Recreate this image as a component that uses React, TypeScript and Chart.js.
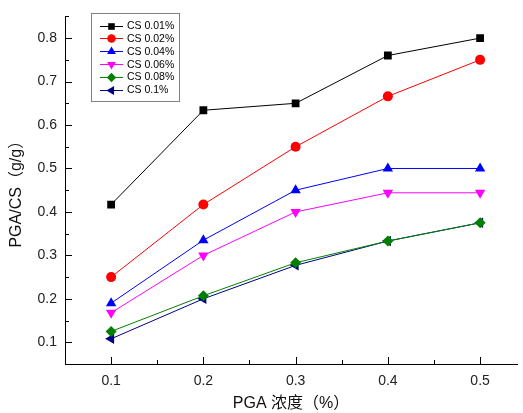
import React, { useEffect, useRef } from "react";
import { Chart, registerables } from "chart.js";

Chart.register(...registerables);

const xValues = [0.1, 0.2, 0.3, 0.4, 0.5];
const cs001 = [0.417, 0.634, 0.65, 0.76, 0.8];
const cs002 = [0.25, 0.417, 0.55, 0.666, 0.75];
const cs004 = [0.19, 0.335, 0.45, 0.5, 0.5];
const cs006 = [0.168, 0.3, 0.4, 0.444, 0.444];
const cs008 = [0.125, 0.207, 0.283, 0.333, 0.375];
const cs01 = [0.108, 0.2, 0.277, 0.333, 0.375];
const seriesLabels = ["CS 0.01%", "CS 0.02%", "CS 0.04%", "CS 0.06%", "CS 0.08%", "CS 0.1%"];
const xTickValues = [0.1, 0.2, 0.3, 0.4, 0.5];
const xMinorTicks = [0.05, 0.15, 0.25, 0.35, 0.45];
const yTickValues = [0.1, 0.2, 0.3, 0.4, 0.5, 0.6, 0.7, 0.8];
const yMinorTicks = [0.15, 0.25, 0.35, 0.45, 0.55, 0.65, 0.75, 0.85];
const xTitle = "PGA 浓度（%）";
const yTitle = "PGA/CS（g/g）";

const seriesValues = [cs001, cs002, cs004, cs006, cs008, cs01];
const colors = ["#000000", "#ff0000", "#0000ff", "#ff00ff", "#008000", "#000080"];
const pointStyles = ["rect", "circle", "triangle", "triangle", "rectRot", "triangle"];
const rotations = [0, 0, 0, 180, 0, -90];
const radii = [5.5, 5, 6, 6, 5.5, 6];

const FONT = "'Liberation Sans', Arial, 'Noto Sans CJK SC', sans-serif";

function drawMarker(ctx: CanvasRenderingContext2D, style: string, rot: number, x: number, y: number, r: number, color: string) {
  ctx.save();
  ctx.fillStyle = color;
  ctx.translate(x, y);
  ctx.rotate((rot * Math.PI) / 180);
  ctx.beginPath();
  if (style === "rect") {
    const s = r * Math.SQRT1_2;
    ctx.rect(-s, -s, 2 * s, 2 * s);
  } else if (style === "circle") {
    ctx.arc(0, 0, r, 0, Math.PI * 2);
  } else if (style === "triangle") {
    ctx.moveTo(0, -r);
    ctx.lineTo(r * Math.sin(Math.PI / 3), r * 0.5);
    ctx.lineTo(-r * Math.sin(Math.PI / 3), r * 0.5);
    ctx.closePath();
  } else if (style === "rectRot") {
    ctx.moveTo(0, -r);
    ctx.lineTo(r, 0);
    ctx.lineTo(0, r);
    ctx.lineTo(-r, 0);
    ctx.closePath();
  }
  ctx.fill();
  ctx.restore();
}

const ticksAndLegend = {
  id: "ticksAndLegend",
  afterDraw(chart: any) {
    const ctx: CanvasRenderingContext2D = chart.ctx;
    const xs = chart.scales.x;
    const ys = chart.scales.y;
    const area = chart.chartArea;
    ctx.save();
    ctx.strokeStyle = "#000";
    ctx.lineWidth = 1;
    ctx.beginPath();
    xTickValues.forEach((v) => {
      const px = Math.round(xs.getPixelForValue(v)) + 0.5;
      ctx.moveTo(px, area.bottom);
      ctx.lineTo(px, area.bottom - 7);
    });
    xMinorTicks.forEach((v) => {
      const px = Math.round(xs.getPixelForValue(v)) + 0.5;
      ctx.moveTo(px, area.bottom);
      ctx.lineTo(px, area.bottom - 4);
    });
    yTickValues.forEach((v) => {
      const py = Math.round(ys.getPixelForValue(v)) + 0.5;
      ctx.moveTo(area.left, py);
      ctx.lineTo(area.left + 7, py);
    });
    yMinorTicks.forEach((v) => {
      const py = Math.round(ys.getPixelForValue(v)) + 0.5;
      ctx.moveTo(area.left, py);
      ctx.lineTo(area.left + 4, py);
    });
    ctx.stroke();

    // legend box
    const bx = 91.5, by = 13.5, bw = 88, bh = 88;
    ctx.fillStyle = "#ffffff";
    ctx.fillRect(bx, by, bw, bh);
    ctx.strokeStyle = "#808080";
    ctx.strokeRect(bx, by, bw, bh);
    ctx.font = "10.5px " + FONT;
    ctx.textBaseline = "middle";
    ctx.textAlign = "left";
    seriesLabels.forEach((lab, i) => {
      const y = 25.5 + i * 12.9;
      ctx.strokeStyle = colors[i];
      ctx.beginPath();
      ctx.moveTo(100, Math.round(y) + 0.5);
      ctx.lineTo(123, Math.round(y) + 0.5);
      ctx.stroke();
      drawMarker(ctx, pointStyles[i], rotations[i], 111.5, Math.round(y) + 0.5, radii[i] * 0.85, colors[i]);
      ctx.fillStyle = "#000";
      ctx.fillText(lab, 127, y + 0.5);
    });
    ctx.restore();
  },
};

export default function App() {
  const ref = useRef<HTMLCanvasElement | null>(null);
  useEffect(() => {
    document.body.style.margin = "0";
    const canvas = ref.current!;
    const datasets = seriesValues.map((vals, i) => ({
      label: seriesLabels[i],
      data: vals.map((v, j) => ({ x: xValues[j], y: v })),
      borderColor: colors[i],
      backgroundColor: colors[i],
      borderWidth: 1,
      pointStyle: pointStyles[i],
      pointRotation: rotations[i],
      pointRadius: radii[i],
      pointBorderWidth: 0,
      pointBackgroundColor: colors[i],
      pointBorderColor: colors[i],
      tension: 0,
      fill: false,
    }));
    const chart = new Chart(canvas, {
      type: "line",
      data: { datasets },
      options: {
        animation: false,
        responsive: false,
        maintainAspectRatio: false,
        layout: { padding: { left: 0, top: 16, right: 2, bottom: 0 } },
        plugins: { legend: { display: false }, tooltip: { enabled: false } },
        scales: {
          x: {
            type: "linear",
            min: 0.05,
            max: 0.54,
            grid: { display: false, drawTicks: false },
            border: { display: true, color: "#000", width: 1 },
            afterBuildTicks: (scale: any) => {
              scale.ticks = xTickValues.map((v) => ({ value: v }));
            },
            afterFit: (scale: any) => {
              scale.height = 49;
            },
            ticks: {
              padding: 9,
              color: "#222",
              font: { family: FONT, size: 14 },
              callback: (v: any) => Number(v).toFixed(1),
              maxRotation: 0,
            },
            title: {
              display: true,
              text: xTitle,
              color: "#111",
              font: { family: FONT, size: 16 },
              padding: { top: 0, bottom: 0 },
            },
          },
          y: {
            type: "linear",
            min: 0.05,
            max: 0.85,
            grid: { display: false, drawTicks: false },
            border: { display: true, color: "#000", width: 1 },
            afterBuildTicks: (scale: any) => {
              scale.ticks = yTickValues.map((v) => ({ value: v }));
            },
            afterFit: (scale: any) => {
              scale.width = 65;
            },
            ticks: {
              padding: 8,
              color: "#222",
              font: { family: FONT, size: 14 },
              callback: (v: any) => Number(v).toFixed(1),
            },
            title: {
              display: true,
              text: yTitle,
              color: "#111",
              font: { family: FONT, size: 16 },
              padding: { top: 7, bottom: 0 },
            },
          },
        },
      },
      plugins: [ticksAndLegend],
    } as any);
    return () => chart.destroy();
  }, []);
  return (
    <div style={{ position: "absolute", left: 0, top: 0, width: 523, height: 413, background: "#fff" }}>
      <canvas ref={ref} width={523} height={413} style={{ display: "block" }} />
    </div>
  );
}
